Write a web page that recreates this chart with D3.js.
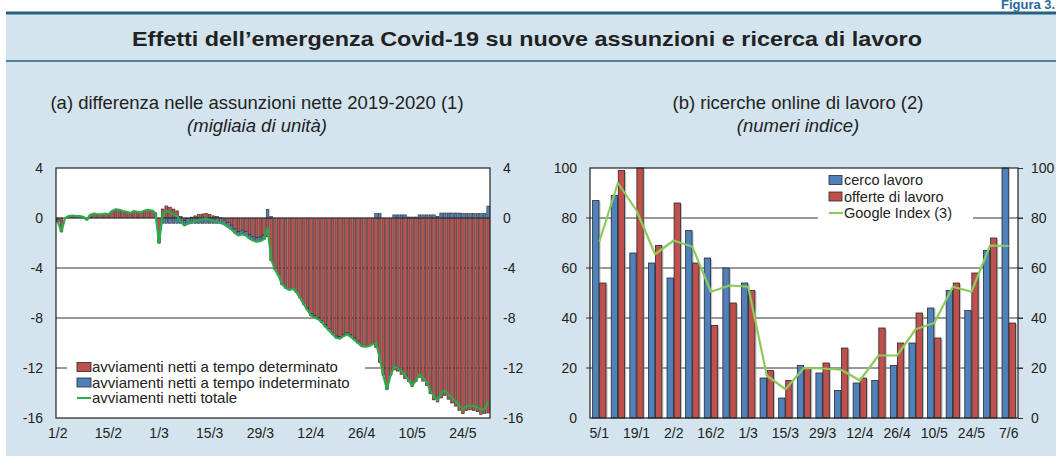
<!DOCTYPE html>
<html>
<head>
<meta charset="utf-8">
<script src="https://cdn.jsdelivr.net/npm/d3@7"></script>
<style>
  html, body { margin: 0; padding: 0; background: #ffffff; }
  svg text { font-family: "Liberation Sans", Arial, Helvetica, sans-serif; fill: #222222; }
</style>
</head>
<body>
<div id="chartDivId"></div>
<script>
// ---- panel (a): difference in net hirings 2019-2020, thousands, daily 1/2 - 31/5 ----
var detValues = [
    -0.1, -0.9, 0.0, 0.15, 0.2, 0.15, 0.15, 0.1, -0.15, 0.25,
    0.35, 0.3, 0.3, 0.35, 0.3, 0.55, 0.7, 0.65, 0.55, 0.5,
    0.4, 0.55, 0.5, 0.45, 0.6, 0.65, 0.6, 0.4, -1.35, 0.72,
    0.97, 0.87, 0.72, 0.57, 0.12, -0.18, -0.03, 0.07, 0.17, 0.27,
    0.32, 0.37, 0.27, 0.17, 0.12, 0.02, -0.17, -0.37, -0.57, -0.87,
    -1.07, -0.97, -1.07, -1.32, -1.47, -1.57, -1.52, -1.37, -1.5, -3.42,
    -4.1, -4.6, -5.3, -5.6, -5.75, -5.65, -5.95, -6.4, -6.9, -7.2,
    -7.65, -7.8, -7.95, -8.2, -8.55, -8.85, -9.15, -9.45, -9.5, -9.3,
    -9.15, -9.35, -9.6, -9.85, -10.25, -10.3, -10.25, -10.1, -10.35, -11.55,
    -12.6, -13.7, -12.6, -12.15, -12.25, -12.5, -12.85, -13.08, -13.48, -13.08,
    -12.75, -13.05, -13.4, -14.05, -14.55, -14.72, -14.4, -14.2, -14.5, -14.8,
    -15.05, -15.4, -15.65, -15.4, -15.35, -15.4, -15.5, -15.7, -15.65, -15.6
];
var indValues = [
    -0.2, -0.2, 0, 0, 0, 0, 0, 0, 0, 0,
    0, 0, 0, 0, 0, 0, 0, 0, 0, 0,
    0, 0, 0, 0, 0, 0, 0, 0, -0.65, -0.42,
    -0.42, -0.42, -0.42, -0.42, -0.42, -0.42, -0.42, -0.42, -0.42, -0.42,
    -0.42, -0.42, -0.42, -0.42, -0.42, -0.42, -0.33, -0.33, -0.33, -0.33,
    -0.33, -0.33, -0.33, -0.33, -0.33, -0.33, -0.33, -0.33, 0.7, 0.12,
    0, 0, 0, 0, 0, 0, 0, 0, 0, -0.15,
    -0.15, -0.15, -0.15, -0.15, -0.15, -0.15, -0.15, -0.15, -0.15, -0.15,
    -0.15, -0.15, -0.15, -0.15, 0, 0, 0, 0, 0.35, 0.35,
    0, 0, 0, 0.25, 0.25, 0.25, 0.25, 0.08, 0.08, 0.08,
    0.25, 0.25, 0.25, 0.25, 0.25, 0.12, 0.4, 0.4, 0.4, 0.4,
    0.4, 0.4, 0.35, 0.35, 0.35, 0.35, 0.35, 0.35, 0.35, 0.95
];
var totValues = [
    -0.3, -1.1, 0.0, 0.15, 0.2, 0.15, 0.15, 0.1, -0.15, 0.25,
    0.35, 0.3, 0.3, 0.35, 0.3, 0.55, 0.7, 0.65, 0.55, 0.5,
    0.4, 0.55, 0.5, 0.45, 0.6, 0.65, 0.6, 0.4, -2.0, 0.3,
    0.55, 0.45, 0.3, 0.15, -0.3, -0.6, -0.45, -0.35, -0.25, -0.15,
    -0.1, -0.05, -0.15, -0.25, -0.3, -0.4, -0.5, -0.7, -0.9, -1.2,
    -1.4, -1.3, -1.4, -1.65, -1.8, -1.9, -1.85, -1.7, -0.8, -3.3,
    -4.1, -4.6, -5.3, -5.6, -5.75, -5.65, -5.95, -6.4, -6.9, -7.35,
    -7.8, -7.95, -8.1, -8.35, -8.7, -9.0, -9.3, -9.6, -9.65, -9.45,
    -9.3, -9.5, -9.75, -10.0, -10.25, -10.3, -10.25, -10.1, -10.0, -11.2,
    -12.6, -13.7, -12.6, -11.9, -12.0, -12.25, -12.6, -13.0, -13.4, -13.0,
    -12.5, -12.8, -13.15, -13.8, -14.3, -14.6, -14.0, -13.8, -14.1, -14.4,
    -14.65, -15.0, -15.3, -15.05, -15.0, -15.05, -15.15, -15.35, -15.3, -14.65
];
var leftDateTicks = ["1/2", "15/2", "1/3", "15/3", "29/3", "12/4", "26/4", "10/5", "24/5"];
var leftYTicks = [-16, -12, -8, -4, 0, 4];
var leftLegend = ["avviamenti netti a tempo determinato", "avviamenti netti a tempo indeterminato", "avviamenti netti totale"];

// ---- panel (b): online job searches, index numbers, weekly ----
var weekLabels = ["5/1", "12/1", "19/1", "26/1", "2/2", "9/2", "16/2", "23/2", "1/3", "8/3", "15/3", "22/3",
                  "29/3", "5/4", "12/4", "19/4", "26/4", "3/5", "10/5", "17/5", "24/5", "31/5", "7/6"];
var cercoValues = [87, 89, 66, 62, 56, 75, 64, 60, 54, 16, 8, 21, 18, 11, 14, 15, 21, 30, 44, 51, 43, 67, 100];
var offerteValues = [54, 99, 100, 69, 86, 62, 37, 46, 51, 19, 15, 20, 22, 28, 16, 36, 30, 42, 32, 54, 58, 72, 38];
var googleValues = [70.5, 94, 83, 65.5, 71, 68.5, 50.5, 53, 52.5, 17, 11.5, 20, 19.8, 19.3, 15, 25, 25, 35.5, 38, 52.5, 50.5, 69, 68.8];
var weekTicks = ["5/1", "19/1", "2/2", "16/2", "1/3", "15/3", "29/3", "12/4", "26/4", "10/5", "24/5", "7/6"];
var rightYTicks = [0, 20, 40, 60, 80, 100];
var rightLegend = ["cerco lavoro", "offerte di lavoro", "Google Index (3)"];

var colRed = "#c0504d", colBlue = "#4f81bd", colGreen = "#2bab4c", colLightGreen = "#8ccb5b";
var panelBg = "#d3e4ee", headLine = "#24617f";

var svg = d3.select("#chartDivId")
    .append("svg")
    .attr("width", 1056)
    .attr("height", 456);

// ---------- header ----------
svg.append("rect").attr("x", 6).attr("y", 14).attr("width", 1050).attr("height", 442).attr("fill", panelBg);
svg.append("line").attr("x1", 6).attr("x2", 1056).attr("y1", 13).attr("y2", 13)
    .attr("stroke", headLine).attr("stroke-width", 3);
svg.append("line").attr("x1", 6).attr("x2", 1056).attr("y1", 61).attr("y2", 61)
    .attr("stroke", headLine).attr("stroke-width", 1.6);
svg.append("text").attr("x", 1001).attr("y", 9)
    .style("font-size", "13px").style("font-weight", "bold").style("fill", "#1f6a9e")
    .text("Figura 3.");
svg.append("text").attr("x", 527).attr("y", 46).attr("text-anchor", "middle")
    .attr("textLength", 790).attr("lengthAdjust", "spacingAndGlyphs")
    .style("font-size", "21px").style("font-weight", "bold")
    .text("Effetti dell\u2019emergenza Covid-19 su nuove assunzioni e ricerca di lavoro");

// panel titles
svg.append("text").attr("x", 257).attr("y", 109).attr("text-anchor", "middle").style("font-size", "18.5px")
    .text("(a) differenza nelle assunzioni nette 2019-2020 (1)");
svg.append("text").attr("x", 257).attr("y", 132).attr("text-anchor", "middle").style("font-size", "18.5px")
    .style("font-style", "italic").text("(migliaia di unità)");
svg.append("text").attr("x", 798).attr("y", 109).attr("text-anchor", "middle").style("font-size", "18.5px")
    .text("(b) ricerche online di lavoro (2)");
svg.append("text").attr("x", 798).attr("y", 132).attr("text-anchor", "middle").style("font-size", "18.5px")
    .style("font-style", "italic").text("(numeri indice)");

function styleAxis(g) {
    g.select(".domain").remove();
    g.selectAll("text").style("font-size", "14px").style("fill", "#222");
}

// ---------- panel (a) ----------
var L = { left: 56, right: 490, top: 168, bottom: 418 };
var dayLabels = d3.timeDay.range(new Date(2019, 1, 1), new Date(2019, 5, 1)).map(d3.timeFormat("%-d/%-m"));

var xL = d3.scaleBand().domain(dayLabels).range([L.left, L.right]).paddingInner(0.25).paddingOuter(0.125);
var yL = d3.scaleLinear().domain([-16, 4]).range([L.bottom, L.top]);

svg.append("rect").attr("x", L.left).attr("y", L.top)
    .attr("width", L.right - L.left).attr("height", L.bottom - L.top).attr("fill", "#fff");

// gridlines
svg.append("g").selectAll("line")
    .data([-12, -8, -4])
    .enter().append("line")
    .attr("x1", L.left).attr("x2", L.right)
    .attr("y1", function(d) { return yL(d); }).attr("y2", function(d) { return yL(d); })
    .attr("stroke", "#333").attr("stroke-width", 1);

// stacked bars
var leftRows = dayLabels.map(function(d, i) {
    return { day: d, det: detValues[i], ind: indValues[i], tot: totValues[i] };
});
var leftStack = d3.stack().keys(["det", "ind"]).offset(d3.stackOffsetDiverging)(leftRows);
var leftColor = { det: colRed, ind: colBlue };

svg.append("g").selectAll("g")
    .data(leftStack)
    .enter().append("g")
    .attr("fill", function(s) { return leftColor[s.key]; })
    .selectAll("rect")
    .data(function(s) { return s; })
    .enter().append("rect")
    .attr("x", function(d) { return xL(d.data.day); })
    .attr("width", xL.bandwidth())
    .attr("y", function(d) { return yL(Math.max(d[0], d[1])); })
    .attr("height", function(d) { return Math.abs(yL(d[0]) - yL(d[1])); })
    .attr("stroke", "#2a2a2a").attr("stroke-width", 0.6);

// zero line
svg.append("line").attr("x1", L.left).attr("x2", L.right).attr("y1", yL(0)).attr("y2", yL(0))
    .attr("stroke", "#333").attr("stroke-width", 1);

// total line
var totLine = d3.line()
    .x(function(d) { return xL(d.day) + xL.bandwidth() / 2; })
    .y(function(d) { return yL(d.tot); });
svg.append("path").datum(leftRows).attr("d", totLine)
    .attr("fill", "none").attr("stroke", colGreen).attr("stroke-width", 2.2).attr("stroke-linejoin", "round");

// frame
svg.append("rect").attr("x", L.left).attr("y", L.top)
    .attr("width", L.right - L.left).attr("height", L.bottom - L.top)
    .attr("fill", "none").attr("stroke", "#222").attr("stroke-width", 1.2);

// axes
svg.append("g").attr("transform", "translate(0," + L.bottom + ")")
    .call(d3.axisBottom(xL).tickValues(leftDateTicks).tickSize(0).tickPadding(10))
    .call(styleAxis);
svg.append("g").attr("transform", "translate(" + L.left + ",0)")
    .call(d3.axisLeft(yL).tickValues(leftYTicks).tickSize(0).tickPadding(13).tickFormat(function(d) { return String(d); }))
    .call(styleAxis);
svg.append("g").attr("transform", "translate(" + L.right + ",0)")
    .call(d3.axisRight(yL).tickValues(leftYTicks).tickSize(0).tickPadding(13).tickFormat(function(d) { return String(d); }))
    .call(styleAxis);

// legend (a)
var legA = svg.append("g");
legA.append("rect").attr("x", 67).attr("y", 357).attr("width", 298).attr("height", 50).attr("fill", "#fff");
var legAItems = legA.selectAll("g.item")
    .data(leftLegend)
    .enter().append("g")
    .attr("class", "item")
    .attr("transform", function(d, i) { return "translate(77," + (367 + i * 15.5) + ")"; });
legAItems.filter(function(d, i) { return i < 2; })
    .append("rect")
    .attr("x", 0).attr("y", -4.5).attr("width", 14).attr("height", 9)
    .attr("fill", function(d, i) { return i === 0 ? colRed : colBlue; })
    .attr("stroke", "#2a2a2a").attr("stroke-width", 0.8);
legAItems.filter(function(d, i) { return i === 2; })
    .append("line")
    .attr("x1", 0).attr("x2", 14).attr("y1", 0).attr("y2", 0)
    .attr("stroke", colGreen).attr("stroke-width", 2);
legAItems.append("text")
    .attr("x", 15).attr("dy", "0.35em")
    .style("font-size", "15px")
    .text(function(d) { return d; });

// ---------- panel (b) ----------
var R = { left: 590, right: 1018, top: 168, bottom: 418 };

var x0R = d3.scaleBand().domain(weekLabels).range([R.left, R.right]).paddingInner(0.28).paddingOuter(0.14);
var x1R = d3.scaleBand().domain(["cerco", "offerte"]).range([0, x0R.bandwidth()]).paddingInner(0.1);
var yR = d3.scaleLinear().domain([0, 100]).range([R.bottom, R.top]);

svg.append("rect").attr("x", R.left).attr("y", R.top)
    .attr("width", R.right - R.left).attr("height", R.bottom - R.top).attr("fill", "#fff");

svg.append("g").selectAll("line")
    .data([20, 40, 60, 80])
    .enter().append("line")
    .attr("x1", R.left - 4).attr("x2", R.right + 5)
    .attr("y1", function(d) { return yR(d); }).attr("y2", function(d) { return yR(d); })
    .attr("stroke", "#333").attr("stroke-width", 1);

var rightRows = weekLabels.map(function(d, i) {
    return { week: d, cerco: cercoValues[i], offerte: offerteValues[i], google: googleValues[i] };
});
var rightColor = { cerco: colBlue, offerte: colRed };

var weekGroups = svg.append("g").selectAll("g")
    .data(rightRows)
    .enter().append("g")
    .attr("transform", function(d) { return "translate(" + x0R(d.week) + ",0)"; });

var barsR = weekGroups.selectAll("g")
    .data(function(d) { return ["cerco", "offerte"].map(function(k) { return { key: k, value: d[k] }; }); })
    .enter().append("g");

// soft shadow behind each bar
barsR.append("rect")
    .attr("x", function(d) { return x1R(d.key) + 1.6; })
    .attr("y", function(d) { return yR(d.value) + 1; })
    .attr("width", x1R.bandwidth())
    .attr("height", function(d) { return Math.max(0, R.bottom - yR(d.value) - 1); })
    .attr("fill", "#9aa0a4").attr("opacity", 0.6);

barsR.append("rect")
    .attr("x", function(d) { return x1R(d.key); })
    .attr("y", function(d) { return yR(d.value); })
    .attr("width", x1R.bandwidth())
    .attr("height", function(d) { return R.bottom - yR(d.value); })
    .attr("fill", function(d) { return rightColor[d.key]; })
    .attr("stroke", "#2a2a2a").attr("stroke-width", 0.8);

var googleLine = d3.line()
    .x(function(d) { return x0R(d.week) + x0R.bandwidth() / 2; })
    .y(function(d) { return yR(d.google); });
svg.append("path").datum(rightRows).attr("d", googleLine)
    .attr("fill", "none").attr("stroke", colLightGreen).attr("stroke-width", 2.2).attr("stroke-linejoin", "round");

// legend (b)
var legB = svg.append("g");
legB.append("rect").attr("x", 818).attr("y", 171).attr("width", 155).attr("height", 51).attr("fill", "#fff");
var legBItems = legB.selectAll("g.item")
    .data(rightLegend)
    .enter().append("g")
    .attr("class", "item")
    .attr("transform", function(d, i) { return "translate(829," + (180 + i * 16.5) + ")"; });
legBItems.filter(function(d, i) { return i < 2; })
    .append("rect")
    .attr("x", 0).attr("y", -4.5).attr("width", 13).attr("height", 9)
    .attr("fill", function(d, i) { return i === 0 ? colBlue : colRed; })
    .attr("stroke", "#2a2a2a").attr("stroke-width", 0.8);
legBItems.filter(function(d, i) { return i === 2; })
    .append("line")
    .attr("x1", 0).attr("x2", 14).attr("y1", 0).attr("y2", 0)
    .attr("stroke", colLightGreen).attr("stroke-width", 2);
legBItems.append("text")
    .attr("x", 15).attr("dy", "0.35em")
    .style("font-size", "14.5px")
    .text(function(d) { return d; });

// frame and axes
svg.append("rect").attr("x", R.left).attr("y", R.top)
    .attr("width", R.right - R.left).attr("height", R.bottom - R.top)
    .attr("fill", "none").attr("stroke", "#222").attr("stroke-width", 1.2);

svg.append("g").attr("transform", "translate(0," + R.bottom + ")")
    .call(d3.axisBottom(x0R).tickValues(weekTicks).tickSize(0).tickPadding(10))
    .call(styleAxis);
svg.append("g").attr("transform", "translate(" + R.left + ",0)")
    .call(d3.axisLeft(yR).tickValues(rightYTicks).tickSize(0).tickPadding(13))
    .call(styleAxis);
svg.append("g").attr("transform", "translate(" + R.right + ",0)")
    .call(d3.axisRight(yR).tickValues(rightYTicks).tickSize(5).tickPadding(8))
    .call(styleAxis)
    .selectAll("line").attr("stroke", "#333");
</script>
</body>
</html>
